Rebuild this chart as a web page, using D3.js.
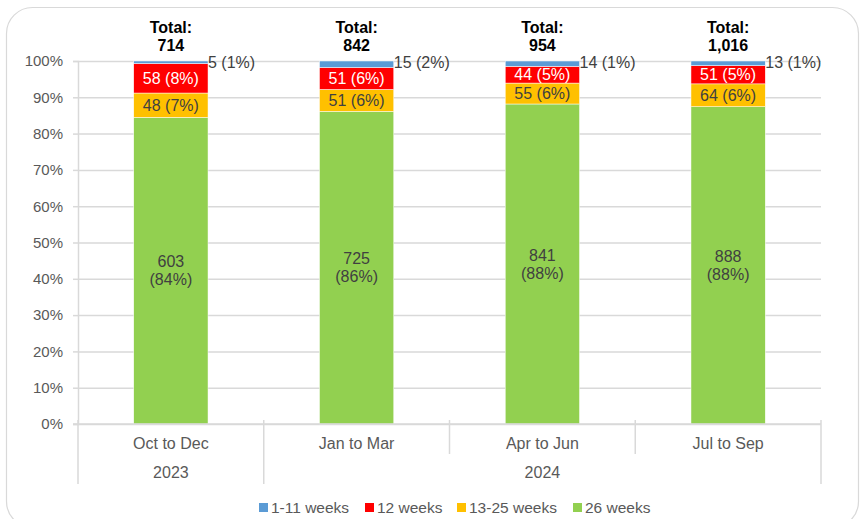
<!DOCTYPE html>
<html>
<head>
<meta charset="utf-8">
<script src="https://cdn.jsdelivr.net/npm/d3@7"></script>
<style>
  body { margin: 0; background: #fff; }
  svg { font-family: "Liberation Sans", Arial, sans-serif; }
</style>
</head>
<body>
<svg id="chart" width="861" height="519"></svg>
<script>
// categories and series
const quarters = ["Oct to Dec", "Jan to Mar", "Apr to Jun", "Jul to Sep"];
const yearLabels = ["2023", "2024"];
const yearSpans = [1, 3];
const seriesNames = ["1-11 weeks", "12 weeks", "13-25 weeks", "26 weeks"];
const colors = ["#5B9BD5", "#FF0000", "#FFC000", "#92D050"];

// counts per quarter
const w1to11 = [5, 15, 14, 13];
const w12 = [58, 51, 44, 51];
const w13to25 = [48, 51, 55, 64];
const w26 = [603, 725, 841, 888];

// percentages as printed on the labels
const p1to11 = [1, 2, 1, 1];
const p12 = [8, 6, 5, 5];
const p13to25 = [7, 6, 6, 6];
const p26 = [84, 86, 88, 88];

const counts = [w1to11, w12, w13to25, w26];
const pcts = [p1to11, p12, p13to25, p26];

let rows = quarters.map((q, i) => {
  let r = { quarter: q };
  seriesNames.forEach((s, j) => r[s] = counts[j][i]);
  r.total = d3.sum(counts, c => c[i]);
  return r;
});

// stack order: bottom is 26 weeks, top is 1-11 weeks
let stackKeys = seriesNames.slice().reverse();
let stacked = d3.stack().keys(stackKeys).offset(d3.stackOffsetExpand)(rows);

let svg = d3.select("#chart");
let plotLeft = 78, plotRight = 821, plotTop = 61, plotBottom = 424;

// frame
svg.append("rect")
  .attr("x", 6.5).attr("y", 7.5)
  .attr("width", 852).attr("height", 520)
  .attr("rx", 26)
  .attr("fill", "none").attr("stroke", "#d9d9d9").attr("stroke-width", 1.2);

let x = d3.scaleBand().domain(quarters).range([plotLeft, plotRight]);
let y = d3.scaleLinear().domain([0, 1]).range([plotBottom, plotTop]);
let bw = x.bandwidth();
let yTicks = d3.range(0, 11).map(d => d / 10);

// gridlines
svg.append("g")
  .attr("transform", "translate(" + plotLeft + ",0)")
  .call(d3.axisLeft(y).tickValues(yTicks).tickSize(-(plotRight - plotLeft)).tickFormat(""))
  .call(g => g.select(".domain").remove())
  .call(g => g.selectAll("line").attr("stroke", "#d9d9d9").attr("stroke-width", 1.5));

// y axis
svg.append("g")
  .attr("transform", "translate(" + plotLeft + ",0)")
  .call(d3.axisLeft(y).tickValues(yTicks).tickSize(5).tickPadding(10).tickFormat(d3.format(".0%")))
  .call(g => g.select(".domain").attr("stroke", "#d9d9d9").attr("stroke-width", 1.5))
  .call(g => g.selectAll("line").attr("stroke", "#d9d9d9").attr("stroke-width", 1.5))
  .call(g => g.selectAll("text").attr("fill", "#595959").style("font-size", "15px"))
  .attr("font-family", null);

// bars
let layers = svg.append("g").selectAll("g")
  .data(stacked)
  .join("g")
    .attr("fill", d => colors[seriesNames.indexOf(d.key)]);

layers.selectAll("rect")
  .data(d => d)
  .join("rect")
    .attr("x", d => x(d.data.quarter) + bw * 0.3)
    .attr("width", bw * 0.4)
    .attr("y", d => y(d[1]))
    .attr("height", d => y(d[0]) - y(d[1]))
    .attr("stroke", "#fff").attr("stroke-width", 0.5);

// x axis line and category dividers
svg.append("line")
  .attr("x1", plotLeft - 5).attr("x2", plotRight)
  .attr("y1", plotBottom).attr("y2", plotBottom)
  .attr("stroke", "#d9d9d9").attr("stroke-width", 1.5);

let yearEdges = [0];
yearSpans.forEach(s => yearEdges.push(yearEdges[yearEdges.length - 1] + s));
d3.range(quarters.length + 1).forEach(i => {
  let xx = plotLeft + i * x.step();
  let long = yearEdges.includes(i);
  svg.append("line")
    .attr("x1", xx).attr("x2", xx)
    .attr("y1", plotBottom - 4).attr("y2", long ? 484 : 454)
    .attr("stroke", "#d9d9d9").attr("stroke-width", 1.5);
});

svg.append("g").selectAll("text")
  .data(quarters)
  .join("text")
    .attr("x", d => x(d) + bw / 2)
    .attr("y", 449)
    .attr("text-anchor", "middle")
    .attr("fill", "#595959")
    .style("font-size", "16px")
    .text(d => d);

svg.append("g").selectAll("text")
  .data(yearLabels)
  .join("text")
    .attr("x", (d, i) => plotLeft + (yearEdges[i] + yearEdges[i + 1]) / 2 * x.step())
    .attr("y", 478)
    .attr("text-anchor", "middle")
    .attr("fill", "#595959")
    .style("font-size", "16px")
    .text(d => d);

// data labels
stacked.forEach(layer => {
  let j = seriesNames.indexOf(layer.key);
  layer.forEach((d, i) => {
    let label = counts[j][i] + " (" + pcts[j][i] + "%)";
    let cx = x(d.data.quarter) + bw / 2;
    let cy = (y(d[0]) + y(d[1])) / 2;
    if (j === 0) {
      svg.append("text")
        .attr("x", x(d.data.quarter) + bw * 0.7)
        .attr("y", y(1) + 1).attr("dy", "0.35em")
        .attr("fill", "#404040").style("font-size", "16px")
        .text(label);
    } else if (j === 3) {
      let t = svg.append("text")
        .attr("text-anchor", "middle")
        .attr("fill", "#404040").style("font-size", "16px");
      t.append("tspan").attr("x", cx).attr("y", cy - 9).attr("dy", "0.35em").text(counts[j][i]);
      t.append("tspan").attr("x", cx).attr("y", cy + 9).attr("dy", "0.35em").text("(" + pcts[j][i] + "%)");
    } else {
      svg.append("text")
        .attr("x", cx).attr("y", cy).attr("dy", "0.35em")
        .attr("text-anchor", "middle")
        .attr("fill", j === 1 ? "#ffffff" : "#404040")
        .style("font-size", "16px")
        .text(label);
    }
  });
});

// totals above the bars
let totals = svg.append("g").selectAll("text")
  .data(rows)
  .join("text")
    .attr("text-anchor", "middle")
    .attr("fill", "#000")
    .attr("font-weight", "bold")
    .style("font-size", "16px");
totals.append("tspan").attr("x", d => x(d.quarter) + bw / 2).attr("y", 33).text("Total:");
totals.append("tspan").attr("x", d => x(d.quarter) + bw / 2).attr("y", 51).text(d => d3.format(",")(d.total));

// legend
let legendX = [259, 365, 457, 573];
let legend = svg.append("g").selectAll("g")
  .data(seriesNames)
  .join("g")
    .attr("transform", (d, i) => "translate(" + legendX[i] + ",503)");
legend.append("rect")
  .attr("width", 9).attr("height", 9)
  .attr("fill", (d, i) => colors[i]);
legend.append("text")
  .attr("x", 12).attr("y", 9.5)
  .attr("fill", "#595959")
  .style("font-size", "15.5px")
  .text(d => d);
</script>
</body>
</html>
